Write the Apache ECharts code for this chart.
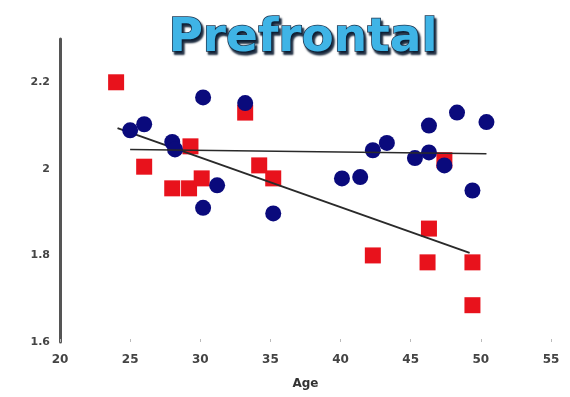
<!DOCTYPE html>
<html>
<head>
<meta charset="utf-8">
<script src="https://cdn.jsdelivr.net/npm/echarts@6/dist/echarts.min.js"></script>
<style>html,body{margin:0;padding:0;background:#fff}#c{width:570px;height:397px}</style>
</head>
<body>
<div id="c"></div>
<script>
const titleText = 'Prefrontal';
const xAxisName = 'Age';
const yTickLabels = ['1.6', '1.8', '2', '2.2'];
const xTickLabels = ['20', '25', '30', '35', '40', '45', '50', '55'];

// Red squares (age, value)
const redAges   = [24.0, 26.0, 28.0, 29.2, 29.3, 30.1, 33.2, 34.2, 35.2, 42.3, 46.3, 46.2, 47.4, 49.4, 49.4];
const redValues = [2.20, 2.005, 1.955, 1.955, 2.052, 1.978, 2.130, 2.008, 1.978, 1.800, 1.862, 1.784, 2.020, 1.784, 1.685];

// Blue circles (age, value)
const blueAges   = [25.0, 26.0, 28.0, 28.2, 30.2, 33.2, 31.2, 30.2, 35.2, 40.1, 41.4, 42.3, 43.3, 45.3, 46.3, 47.4, 46.3, 48.3, 50.4, 49.4];
const blueValues = [2.089, 2.103, 2.062, 2.045, 2.165, 2.152, 1.962, 1.910, 1.897, 1.978, 1.981, 2.043, 2.060, 2.025, 2.038, 2.008, 2.100, 2.130, 2.108, 1.950];

// Regression line endpoints
const blueFitAges   = [25.0, 50.4];
const blueFitValues = [2.045, 2.035];
const redFitAges    = [24.1, 49.2];
const redFitValues  = [2.094, 1.806];

const zip = (a, b) => a.map((v, i) => [v, b[i]]);

const chart = echarts.init(document.getElementById('c'));
chart.setOption({
  animation: false,
  backgroundColor: '#ffffff',
  title: {
    text: titleText,
    left: 298, top: 10, textAlign: 'center',
    textStyle: {
      fontFamily: 'DejaVu Sans', fontWeight: 'bold', fontSize: 47,
      color: '#3fb4e6',
      textBorderColor: '#1d3550', textBorderWidth: 1.5,
      textShadowColor: '#0e1e33', textShadowOffsetX: 2, textShadowOffsetY: 3, textShadowBlur: 2
    }
  },
  grid: { left: 60, right: 19, top: 39, bottom: 55 },
  xAxis: {
    type: 'value', min: 20, max: 55, interval: 5,
    name: xAxisName, nameLocation: 'middle', nameGap: 36,
    nameTextStyle: { fontFamily: 'DejaVu Sans', fontWeight: 'bold', fontSize: 12, color: '#333' },
    axisLine: { show: false },
    axisTick: { show: true, length: 3, inside: true, lineStyle: { color: '#bbb' } },
    splitLine: { show: false },
    axisLabel: {
      margin: 12, fontFamily: 'DejaVu Sans', fontWeight: 'bold', fontSize: 12, color: '#444',
      formatter: v => { const s = String(v); return xTickLabels.includes(s) ? s : ''; }
    }
  },
  yAxis: {
    type: 'value', min: 1.6, max: 2.3, interval: 0.2,
    axisLine: { show: true, onZero: false, lineStyle: { color: '#555', width: 3 } },
    axisTick: { show: false },
    splitLine: { show: false },
    axisLabel: {
      margin: 10, fontFamily: 'DejaVu Sans', fontWeight: 'bold', fontSize: 11, color: '#444',
      formatter: v => { const s = String(+v.toFixed(1)); return yTickLabels.includes(s) ? s : ''; }
    }
  },
  series: [
    {
      type: 'scatter', symbol: 'rect', symbolSize: 16, z: 2,
      itemStyle: { color: '#e8121c', opacity: 1 },
      data: zip(redAges, redValues)
    },
    {
      type: 'line', z: 3, symbol: 'none',
      lineStyle: { color: '#2a2a2a', width: 2 },
      data: zip(redFitAges, redFitValues)
    },
    {
      type: 'scatter', symbol: 'circle', symbolSize: 16, z: 4,
      itemStyle: { color: '#0a0a7c', opacity: 1 },
      data: zip(blueAges, blueValues)
    },
    {
      type: 'line', z: 5, symbol: 'none',
      lineStyle: { color: '#2a2a2a', width: 1.5 },
      data: zip(blueFitAges, blueFitValues)
    }
  ]
});
</script>
</body>
</html>
